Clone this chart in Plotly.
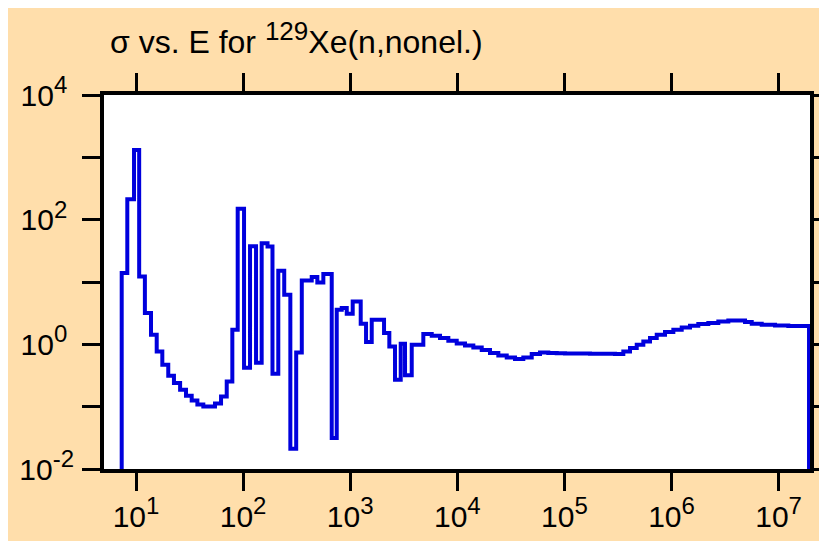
import plotly.graph_objects as go

# Bin edges (eV) and group cross sections (b)
energy_edges = [
    7.35, 8.29, 9.58, 10.7, 12.1, 13.8, 15.6, 17.6, 20.0, 22.6,
    25.8, 29.3, 33.1, 37.4, 42.5, 48.0, 54.6, 62.2, 70.3, 79.3,
    89.0, 102, 116, 132, 149, 169, 188, 213, 242, 276,
    313, 353, 437, 493, 561, 672, 748, 833, 928, 1055,
    1253, 1405, 1588, 2069, 2318, 2620, 2961, 3249, 3752, 4814,
    5768, 6895, 8243, 9872, 11800, 14110, 16900, 20200, 24150, 28930,
    34580, 41330, 49510, 59180, 70740, 84750, 101300, 121100, 145000, 173400,
    207300, 248300, 296800, 354800, 409800, 473300, 545500, 630000, 727600, 869800,
    1.04e6, 1.245e6, 1.488e6, 1.779e6, 2.206e6, 2.735e6, 3.391e6, 4.063e6, 4.858e6, 5.609e6,
    6.953e6, 9.257e6, 1.232e7, 1.923e7,
]
cross_section = [
    13.9, 213, 1315, 12.2, 3.18, 1.43, 0.769, 0.471, 0.314, 0.240,
    0.187, 0.150, 0.126, 0.108, 0.101, 0.101, 0.112, 0.146, 0.254, 1.71,
    149, 0.422, 37.6, 0.507, 42.0, 37.1, 0.338, 15.2, 6.24, 0.0212,
    0.741, 10.6, 12.0, 9.82, 13.4, 0.0315, 3.58, 3.82, 3.09, 4.87,
    2.14, 1.09, 2.48, 1.52, 0.925, 0.271, 1.02, 0.320, 0.986, 1.46,
    1.37, 1.26, 1.14, 1.03, 0.960, 0.891, 0.810, 0.726, 0.664, 0.617,
    0.581, 0.617, 0.700, 0.742, 0.726, 0.720, 0.715, 0.715, 0.712, 0.707,
    0.707, 0.707, 0.700, 0.769, 0.873, 0.986, 1.11, 1.26, 1.43, 1.57,
    1.71, 1.87, 1.99, 2.11, 2.19, 2.33, 2.41, 2.41, 2.28, 2.14,
    2.06, 2.01, 1.96,
]

x_tick_vals = [1e1, 1e2, 1e3, 1e4, 1e5, 1e6, 1e7]
x_tick_exp = ["1", "2", "3", "4", "5", "6", "7"]
y_tick_vals = [1e-2, 1e-1, 1e0, 1e1, 1e2, 1e3, 1e4]
y_tick_exp = ["-2", "", "0\u00a0", "", "2\u00a0", "", "4\u00a0"]
title_text = "σ vs. E for <sup><span style='font-size:26px'>129</span></sup>Xe(n,nonel.)"


def power_label(exp):
    if exp == "":
        return ""
    return "10<sup><span style='font-size:24px'>" + exp + "</span></sup>"


x_tick_text = [power_label(e) for e in x_tick_exp]
y_tick_text = [power_label(e) for e in y_tick_exp]

floor = 1e-4
xs = [energy_edges[0]] + energy_edges + [energy_edges[-1]]
ys = [floor] + cross_section + [cross_section[-1], floor]

BG = "#FFDEAB"
FONT = "Liberation Sans"

fig = go.Figure()
fig.add_trace(go.Scatter(
    x=xs, y=ys, mode="lines", line=dict(color="#0000DD", width=4, shape="hv"),
    showlegend=False, hoverinfo="skip",
))

axis_common = dict(
    showline=True, linecolor="black", linewidth=4, mirror="ticks",
    ticks="outside", ticklen=18, tickwidth=2.5, tickcolor="black",
    showgrid=False, zeroline=False, automargin=False,
    tickfont=dict(family=FONT, size=30, color="black"),
)

fig.update_layout(
    width=827, height=541,
    font=dict(family=FONT, size=30, color="black"),
    paper_bgcolor=BG, plot_bgcolor="white",
    margin=dict(l=96, r=25, t=87, b=80, autoexpand=False),
    title=dict(
        text=title_text,
        font=dict(family=FONT, size=32, color="black"),
        x=102 / 827, xanchor="left", xref="container",
        y=1 - 34 / 541, yanchor="middle", yref="container",
    ),
    xaxis=dict(type="log", range=[0.701, 7.293], tickvals=x_tick_vals,
               ticktext=x_tick_text, **axis_common),
    yaxis=dict(type="log", range=[-2, 4], tickvals=y_tick_vals,
               ticktext=y_tick_text, ticklabelstandoff=2, **axis_common),
)

fig.write_html("out.html")
